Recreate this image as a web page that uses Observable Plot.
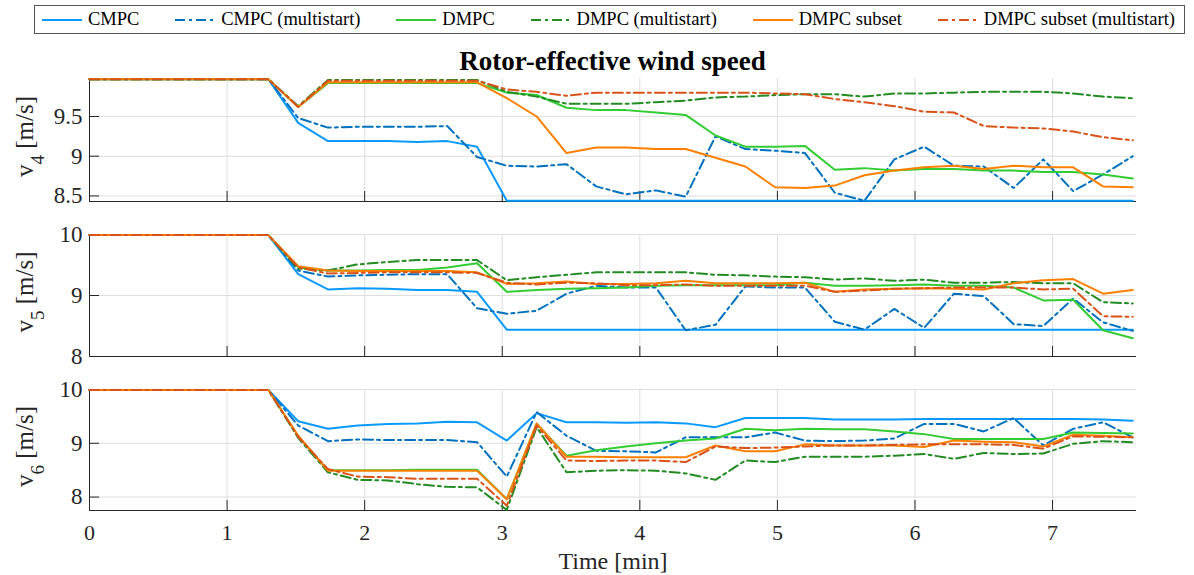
<!DOCTYPE html>
<html>
<head>
<meta charset="utf-8">
<script src="https://cdn.jsdelivr.net/npm/d3@7"></script>
<script src="https://cdn.jsdelivr.net/npm/@observablehq/plot@0.6"></script>
<style>
  html, body { margin: 0; padding: 0; background: #fff; }
  #root { position: relative; width: 1194px; height: 575px; overflow: hidden; font-family: "Liberation Serif", serif; color: #262626; }
  #legend { position: absolute; left: 34px; top: 5px; width: 1151px; height: 29px; box-sizing: border-box; border: 1px solid #555;
            display: flex; align-items: center; justify-content: space-between; padding: 0 9px 0 7px; font-size: 18.5px; color: #000; }
  .item { display: flex; align-items: center; }
  .item svg { display: block; margin-right: 6px; }
  #title { position: absolute; left: 89px; width: 1047px; top: 48px; text-align: center; font-weight: bold; font-size: 27px; line-height: 1; color: #000; }
  svg.panel, svg.panel text, svg.panel tspan, svg.panel g { font-family: "Liberation Serif", serif !important; font-variant: normal !important; font-variant-numeric: normal !important; }
</style>
</head>
<body>
<div id="root">
  <div id="legend"></div>
  <div id="title">Rotor-effective wind speed</div>
</div>
<script>
// ---------- data ----------
const time = [0, 1.3, 1.517, 1.733, 1.95, 2.167, 2.383, 2.6, 2.817, 3.033, 3.25, 3.467, 3.683, 3.9, 4.117, 4.333,
              4.55, 4.767, 4.983, 5.2, 5.417, 5.633, 5.85, 6.067, 6.283, 6.5, 6.717, 6.933, 7.15, 7.367, 7.583];
const xTicks = [0, 1, 2, 3, 4, 5, 6, 7];
const seriesNames = ["CMPC", "CMPC (multistart)", "DMPC", "DMPC (multistart)", "DMPC subset", "DMPC subset (multistart)"];

// v4
const v4_cmpc    = [9.97,9.97,9.42,9.19,9.19,9.19,9.18,9.19,9.12,8.44,8.44,8.44,8.44,8.44,8.44,8.44,8.44,8.44,8.44,8.44,8.44,8.44,8.44,8.44,8.44,8.44,8.44,8.44,8.44,8.44,8.44];
const v4_cmpc_ms = [9.97,9.97,9.48,9.36,9.37,9.37,9.37,9.38,8.99,8.88,8.87,8.90,8.62,8.52,8.57,8.49,9.25,9.09,9.07,9.04,8.54,8.44,8.96,9.12,8.88,8.87,8.60,8.96,8.56,8.77,9.00];
const v4_dmpc    = [9.97,9.97,9.62,9.92,9.92,9.92,9.92,9.92,9.92,9.80,9.77,9.61,9.58,9.58,9.55,9.52,9.26,9.12,9.12,9.13,8.83,8.85,8.82,8.84,8.84,8.82,8.82,8.80,8.80,8.77,8.72];
const v4_dmpc_ms = [9.97,9.97,9.63,9.96,9.96,9.96,9.96,9.96,9.96,9.81,9.75,9.66,9.66,9.66,9.68,9.70,9.74,9.75,9.77,9.78,9.78,9.75,9.79,9.79,9.80,9.81,9.81,9.81,9.79,9.75,9.73];
const v4_sub     = [9.97,9.97,9.62,9.93,9.93,9.93,9.93,9.93,9.93,9.73,9.50,9.04,9.11,9.11,9.09,9.09,8.98,8.87,8.61,8.60,8.63,8.76,8.82,8.86,8.88,8.84,8.88,8.86,8.86,8.62,8.61];
const v4_sub_ms  = [9.97,9.97,9.62,9.95,9.95,9.95,9.95,9.95,9.95,9.84,9.81,9.76,9.80,9.80,9.80,9.80,9.80,9.80,9.79,9.78,9.72,9.68,9.63,9.56,9.55,9.38,9.36,9.35,9.31,9.24,9.20];
const v4_ticks = [8.5, 9, 9.5];

// v5
const v5_cmpc    = [9.99,9.99,9.35,9.10,9.12,9.11,9.09,9.09,9.06,8.44,8.44,8.44,8.44,8.44,8.44,8.44,8.44,8.44,8.44,8.44,8.44,8.44,8.44,8.44,8.44,8.44,8.44,8.44,8.44,8.44,8.44];
const v5_cmpc_ms = [9.99,9.99,9.41,9.31,9.33,9.34,9.35,9.35,8.79,8.70,8.75,9.03,9.16,9.13,9.13,8.43,8.52,9.15,9.13,9.13,8.57,8.44,8.78,8.47,9.03,8.99,8.53,8.50,8.95,8.56,8.42];
const v5_dmpc    = [9.99,9.99,9.46,9.41,9.41,9.42,9.42,9.46,9.53,9.06,9.09,9.11,9.12,9.13,9.16,9.17,9.17,9.17,9.17,9.21,9.16,9.16,9.17,9.18,9.16,9.16,9.13,8.92,8.93,8.43,8.30];
const v5_dmpc_ms = [9.99,9.99,9.44,9.41,9.51,9.55,9.58,9.58,9.58,9.25,9.30,9.34,9.38,9.38,9.38,9.38,9.34,9.33,9.31,9.30,9.26,9.28,9.24,9.26,9.21,9.21,9.22,9.20,9.20,8.89,8.87];
const v5_sub     = [9.99,9.99,9.48,9.41,9.40,9.40,9.40,9.40,9.38,9.19,9.20,9.23,9.19,9.19,9.20,9.24,9.20,9.20,9.20,9.21,9.06,9.10,9.11,9.12,9.11,9.10,9.20,9.25,9.27,9.03,9.09];
const v5_sub_ms  = [9.99,9.99,9.46,9.36,9.37,9.38,9.38,9.38,9.37,9.21,9.18,9.21,9.20,9.17,9.17,9.18,9.16,9.16,9.16,9.16,9.06,9.08,9.11,9.12,9.13,9.13,9.13,9.10,9.11,8.66,8.65];
const v5_ticks = [8, 9, 10];

// v6
const v6_cmpc    = [9.99,9.99,9.41,9.27,9.33,9.36,9.37,9.40,9.39,9.05,9.56,9.39,9.39,9.38,9.39,9.37,9.30,9.47,9.47,9.47,9.44,9.44,9.44,9.45,9.45,9.45,9.45,9.45,9.45,9.44,9.42];
const v6_cmpc_ms = [9.99,9.99,9.33,9.04,9.07,9.06,9.06,9.06,9.02,8.38,9.58,9.14,8.86,8.85,8.83,9.11,9.11,9.11,9.20,9.05,9.04,9.05,9.09,9.36,9.36,9.22,9.47,8.96,9.27,9.39,9.11];
const v6_dmpc    = [9.99,9.99,9.13,8.50,8.50,8.50,8.51,8.51,8.51,7.96,9.36,8.77,8.87,8.94,9.00,9.05,9.09,9.27,9.24,9.27,9.26,9.26,9.22,9.17,9.08,9.08,9.08,9.08,9.20,9.19,9.18];
const v6_dmpc_ms = [9.99,9.99,9.10,8.46,8.32,8.31,8.24,8.19,8.18,7.76,9.30,8.46,8.49,8.50,8.49,8.44,8.32,8.68,8.65,8.75,8.75,8.75,8.77,8.80,8.71,8.82,8.80,8.81,8.99,9.04,9.02];
const v6_sub     = [9.99,9.99,9.14,8.49,8.49,8.49,8.49,8.49,8.49,7.96,9.37,8.75,8.75,8.74,8.74,8.74,8.96,8.85,8.85,8.98,8.96,8.96,8.96,8.93,9.05,9.03,9.02,8.94,9.16,9.14,9.11];
const v6_sub_ms  = [9.99,9.99,9.12,8.52,8.38,8.37,8.34,8.34,8.34,7.84,9.33,8.68,8.67,8.68,8.68,8.65,8.94,8.91,8.92,8.94,8.96,8.96,8.97,8.98,8.98,8.98,8.97,8.90,9.13,9.12,9.11];
const v6_ticks = [8, 9, 10];

// ---------- styles ----------
const colors = ["#0a9aff", "#0072bd", "#33cc33", "#228b22", "#ff8000", "#d95319"];
const dashed = [false, true, false, true, false, true];
const DASH = "10,4,3,4";
const AXIS = "#262626";
const GRID = "#dedede";
const FONT = "Liberation Serif, serif";

// legend
const legend = document.getElementById("legend");
seriesNames.forEach((name, i) => {
  const item = document.createElement("div");
  item.className = "item";
  item.innerHTML = `<svg width="40" height="12"><line x1="0" x2="40" y1="6" y2="6" stroke="${colors[i]}" stroke-width="2" ${dashed[i] ? `stroke-dasharray="${DASH}"` : ""}/></svg><span>${name}</span>`;
  legend.appendChild(item);
});

const panels = [
  {sub: "4", values: [v4_cmpc, v4_cmpc_ms, v4_dmpc, v4_dmpc_ms, v4_sub, v4_sub_ms], domain: [8.43, 9.978], ticks: v4_ticks, top: 70, areaH: 123, mb: 6, last: false},
  {sub: "5", values: [v5_cmpc, v5_cmpc_ms, v5_dmpc, v5_dmpc_ms, v5_sub, v5_sub_ms], domain: [8, 10], ticks: v5_ticks, top: 226, areaH: 122, mb: 6, last: false},
  {sub: "6", values: [v6_cmpc, v6_cmpc_ms, v6_dmpc, v6_dmpc_ms, v6_sub, v6_sub_ms], domain: [7.75, 10], ticks: v6_ticks, top: 381, areaH: 121, mb: 65, last: true}
];
const MT = 8;

const root = document.getElementById("root");
panels.forEach(p => {
  const marks = [
    Plot.gridX(xTicks, {stroke: GRID, strokeOpacity: 1}),
    Plot.gridY(p.ticks, {stroke: GRID, strokeOpacity: 1}),
    Plot.ruleX([0], {stroke: AXIS}),
    Plot.ruleY([p.domain[0]], {stroke: AXIS}),
    Plot.axisX(xTicks, {tickSize: -10, tickFormat: () => "", label: null, stroke: AXIS}),
    Plot.axisY(p.ticks, {tickSize: -10, tickFormat: () => "", label: null, stroke: AXIS})
  ];
  seriesNames.forEach((s, i) => {
    const rows = time.map((t, j) => ({t, v: p.values[i][j], s}));
    marks.push(Plot.line(rows, {x: "t", y: "v", stroke: colors[i], strokeWidth: 2,
      strokeDasharray: dashed[i] ? DASH : null, strokeLinejoin: "round"}));
  });
  marks.push(Plot.axisY(p.ticks, {tickSize: 0, tickPadding: 7, label: null, tickFormat: d => String(d),
    fontFamily: FONT, fontVariant: "normal", fontSize: 23}));
  if (p.last) {
    marks.push(Plot.axisX(xTicks, {tickSize: 0, tickPadding: 14, tickFormat: d => String(d), label: null,
      fontFamily: FONT, fontVariant: "normal", fontSize: 22}));
    marks.push(Plot.axisX([], {tickSize: 0, label: "Time [min]", labelAnchor: "center", labelArrow: "none",
      labelOffset: 58, fontSize: 24, fontFamily: FONT}));
  }
  const svg = Plot.plot({
    width: 1194,
    height: MT + p.areaH + p.mb,
    marginLeft: 89, marginRight: 58, marginTop: MT, marginBottom: p.mb,
    x: {domain: [0, 7.61]},
    y: {domain: p.domain},
    style: {fontFamily: FONT, fontSize: "23px", color: AXIS, background: "transparent", overflow: "visible"},
    marks
  });
  svg.classList.add("panel");
  svg.style.top = p.top + "px";
  svg.style.left = "0px";
  svg.style.position = "absolute";
  svg.querySelectorAll("text").forEach(el => el.setAttribute("font-family", FONT));
  const cy = MT + p.areaH / 2 - 3;
  const t = d3.select(svg).append("text")
    .attr("transform", `translate(33,${cy}) rotate(-90)`)
    .attr("text-anchor", "middle")
    .attr("font-size", 25)
    .attr("font-family", FONT)
    .attr("fill", AXIS);
  t.append("tspan").text("v");
  t.append("tspan").attr("dy", 11).attr("font-size", 19).text(p.sub);
  t.append("tspan").attr("dy", -11).text("\u00a0[m/s]");
  root.appendChild(svg);
});
</script>
</body>
</html>
